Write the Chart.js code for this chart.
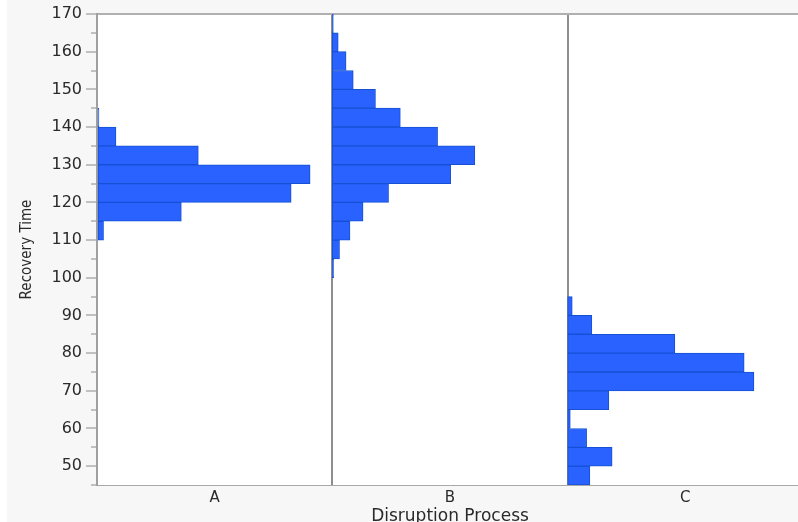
<!DOCTYPE html>
<html lang="en">
<head>
    <meta charset="UTF-8">
    <title>Recovery Time by Disruption Process</title>
    <style>
        html, body {
            margin: 0;
            background-color: white;
            overflow: hidden;
        }
        #wrap {
            position: absolute;
            left: 7px;
            top: 0;
            width: 800px;
            height: 530px;
        }
    </style>
</head>
<body>
    <div id="wrap"><canvas id="histChart" width="800" height="530"></canvas></div>

    <script src="https://cdn.jsdelivr.net/npm/chart.js@4.4.1/dist/chart.umd.min.js"></script>
    <script>
        // groups on the x axis, each gets the same width in count units
        const groups = ['A', 'B', 'C'];
        const groupWidth = 36;
        const binWidth = 5;

        // lower edge of each bin and the bar length
        const aBins = [110, 115, 120, 125, 130, 135, 140];
        const aCounts = [1.0, 12.9, 29.7, 32.6, 15.5, 2.9, 0.3];

        const bBins = [100, 105, 110, 115, 120, 125, 130, 135, 140, 145, 150, 155, 160, 165];
        const bCounts = [0.2, 1.1, 2.7, 4.7, 8.6, 18.1, 21.8, 16.1, 10.4, 6.6, 3.2, 2.1, 0.9, 0.15];

        const cBins = [45, 50, 55, 60, 65, 70, 75, 80, 85, 90];
        const cCounts = [3.4, 6.8, 2.9, 0.4, 6.3, 28.5, 27.0, 16.4, 3.7, 0.7];

        const yMin = 45;
        const yMax = 170;

        const blue = 'rgb(41, 98, 255)';
        const darkBlue = 'rgb(22, 80, 212)';

        const makeSet = (name, bins, counts, g) => {
            const off = g * groupWidth;
            return {
                label: name,
                data: bins.map((b, i) => ({ y: b + binWidth / 2, x: [off, off + counts[i]] })),
                backgroundColor: blue,
                borderColor: darkBlue,
                borderWidth: 1,
                borderSkipped: false,
                grouped: false,
                categoryPercentage: 1,
                barPercentage: 1,
            };
        };

        const background = {
            id: 'background',
            beforeDraw(chart) {
                const c = chart.ctx;
                const a = chart.chartArea;
                c.save();
                c.fillStyle = '#f7f7f7';
                c.fillRect(0, 0, chart.width, chart.height);
                c.fillStyle = 'white';
                c.fillRect(a.left, a.top, a.right - a.left, a.bottom - a.top);
                c.restore();
            }
        };

        const textColor = '#2a2a2a';

        new Chart(document.getElementById('histChart'), {
            type: 'bar',
            data: {
                datasets: [
                    makeSet('A', aBins, aCounts, 0),
                    makeSet('B', bBins, bCounts, 1),
                    makeSet('C', cBins, cCounts, 2),
                ]
            },
            options: {
                indexAxis: 'y',
                responsive: false,
                animation: false,
                layout: { padding: { top: 14, left: 0, right: 0, bottom: 0 } },
                plugins: {
                    legend: { display: false },
                    tooltip: { enabled: false },
                },
                scales: {
                    x: {
                        type: 'linear',
                        min: 0,
                        max: groupWidth * groups.length,
                        afterBuildTicks: (scale) => {
                            const t = [];
                            for (let i = 0; i <= groups.length * 2; i++) t.push({ value: i * groupWidth / 2 });
                            scale.ticks = t;
                        },
                        afterFit: (scale) => { scale.height = 45; },
                        ticks: {
                            autoSkip: false,
                            maxRotation: 0,
                            padding: 4,
                            color: textColor,
                            font: { family: 'DejaVu Sans', size: 15 },
                            callback: (v) => {
                                const k = v / (groupWidth / 2);
                                return k % 2 === 1 ? groups[(k - 1) / 2] : '';
                            }
                        },
                        grid: {
                            drawTicks: false,
                            lineWidth: 2,
                            color: (ctx) => {
                                const v = ctx.tick ? ctx.tick.value : -1;
                                return (v > 0 && v < groupWidth * groups.length && v % groupWidth === 0) ? '#8e8e8e' : 'rgba(0,0,0,0)';
                            }
                        },
                        border: { display: true, color: '#a8a8a8', width: 1 },
                        title: {
                            display: true,
                            text: 'Disruption Process',
                            color: textColor,
                            font: { family: 'DejaVu Sans', size: 17 },
                            padding: { top: 0, bottom: 3 }
                        }
                    },
                    y: {
                        type: 'linear',
                        min: yMin,
                        max: yMax,
                        offset: false,
                        afterFit: (scale) => { scale.width = 90; },
                        ticks: {
                            stepSize: 5,
                            includeBounds: false,
                            autoSkip: false,
                            padding: 4,
                            color: textColor,
                            font: { family: 'DejaVu Sans', size: 16 },
                            callback: (v) => (v % 10 === 0 ? v : '')
                        },
                        grid: {
                            offset: false,
                            drawOnChartArea: true,
                            lineWidth: 2,
                            tickLength: 11,
                            tickWidth: 1,
                            tickColor: '#8a8a8a',
                            tickBorderDash: (ctx) => (ctx.tick && ctx.tick.value % 10 !== 0 ? [0, 5, 6, 0] : []),
                            color: (ctx) => (ctx.tick && ctx.tick.value === yMax ? '#b0b0b0' : 'rgba(0,0,0,0)')
                        },
                        border: { display: true, color: '#a0a0a0', width: 2 },
                        title: {
                            display: true,
                            text: 'Recovery Time',
                            color: textColor,
                            font: { family: 'DejaVu Sans Condensed', size: 15 },
                            padding: { top: 11, bottom: 0 }
                        }
                    }
                }
            },
            plugins: [background]
        });
    </script>
</body>
</html>
